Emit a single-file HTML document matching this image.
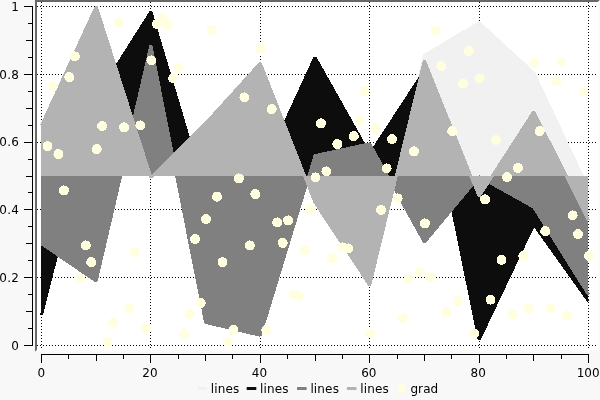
<!DOCTYPE html>
<html><head><meta charset="utf-8"><title>plot</title>
<style>html,body{margin:0;padding:0;background:#f8f8f8;width:600px;height:400px;overflow:hidden}</style>
</head><body>
<svg width="600" height="400" viewBox="0 0 600 400" style="position:absolute;left:0;top:0">
<rect x="0" y="0" width="600" height="400" fill="#f8f8f8"/>
<rect x="35" y="0" width="565" height="352" fill="#ffffff"/>
<polygon points="35,0 600,0 598,2 37,2 37,350 35,352" fill="#6b6764"/>
<polygon points="600,0 600,352 35,352 37,350 598,350 598,2" fill="#fbfbfb"/>
<g stroke="#000" stroke-width="1" stroke-dasharray="1 2" shape-rendering="crispEdges">
<line x1="41.5" y1="2" x2="41.5" y2="350"/>
<line x1="150.5" y1="2" x2="150.5" y2="350"/>
<line x1="260.5" y1="2" x2="260.5" y2="350"/>
<line x1="369.5" y1="2" x2="369.5" y2="350"/>
<line x1="479.5" y1="2" x2="479.5" y2="350"/>
<line x1="588.5" y1="2" x2="588.5" y2="350"/>
<line x1="37" y1="345.5" x2="598" y2="345.5"/>
<line x1="37" y1="277.5" x2="598" y2="277.5"/>
<line x1="37" y1="209.5" x2="598" y2="209.5"/>
<line x1="37" y1="142.5" x2="598" y2="142.5"/>
<line x1="37" y1="74.5" x2="598" y2="74.5"/>
<line x1="37" y1="6.5" x2="598" y2="6.5"/>
</g>
<g shape-rendering="crispEdges" stroke-linejoin="bevel" stroke-linecap="butt">
<polygon fill="#f1f1f1" stroke="none" points="41.00,176.00 41.00,159.05 41.50,159.05 96.20,142.10 150.90,108.20 205.60,159.05 260.30,142.10 315.00,142.10 369.70,277.70 424.40,55.32 479.10,22.77 533.80,72.94 588.50,189.56 588.00,189.56 588.00,176.00"/>
<polyline fill="none" stroke="#f1f1f1" stroke-width="3" points="41.50,159.05 96.20,142.10 150.90,108.20 205.60,159.05 260.30,142.10 315.00,142.10 369.70,277.70 424.40,55.32 479.10,22.77 533.80,72.94 588.50,189.56"/>
<polygon fill="#0d0d0d" stroke="none" points="41.00,176.00 41.00,314.99 41.50,314.99 96.20,98.03 150.90,11.92 205.60,194.98 260.30,176.00 315.00,57.35 369.70,154.64 424.40,70.91 479.10,339.74 533.80,224.48 588.50,301.09 588.00,301.09 588.00,176.00"/>
<polyline fill="none" stroke="#0d0d0d" stroke-width="3" points="41.50,314.99 96.20,98.03 150.90,11.92 205.60,194.98 260.30,176.00 315.00,57.35 369.70,154.64 424.40,70.91 479.10,339.74 533.80,224.48 588.50,301.09"/>
<polygon fill="#808080" stroke="none" points="41.00,176.00 41.00,243.80 41.50,243.80 96.20,281.09 150.90,45.49 205.60,322.45 260.30,335.33 315.00,155.66 369.70,143.80 424.40,242.11 479.10,176.68 533.80,207.19 588.50,294.65 588.00,294.65 588.00,176.00"/>
<polyline fill="none" stroke="#808080" stroke-width="3" points="41.50,243.80 96.20,281.09 150.90,45.49 205.60,322.45 260.30,335.33 315.00,155.66 369.70,143.80 424.40,242.11 479.10,176.68 533.80,207.19 588.50,294.65"/>
<polygon fill="#b3b3b3" stroke="none" points="41.00,176.00 41.00,125.49 41.50,125.49 96.20,6.50 150.90,177.36 205.60,123.45 260.30,63.11 315.00,202.44 369.70,285.16 424.40,60.74 479.10,196.34 533.80,111.59 588.50,220.41 588.00,220.41 588.00,176.00"/>
<polyline fill="none" stroke="#b3b3b3" stroke-width="3" points="41.50,125.49 96.20,6.50 150.90,177.36 205.60,123.45 260.30,63.11 315.00,202.44 369.70,285.16 424.40,60.74 479.10,196.34 533.80,111.59 588.50,220.41"/>
</g>
<g fill="#ffffdf" shape-rendering="crispEdges">
<circle cx="47.47" cy="146.15" r="5"/>
<circle cx="52.94" cy="86.15" r="5"/>
<circle cx="58.41" cy="154.15" r="5"/>
<circle cx="63.88" cy="190.40" r="5"/>
<circle cx="69.35" cy="77.15" r="5"/>
<circle cx="74.82" cy="56.40" r="5"/>
<circle cx="80.29" cy="278.40" r="5"/>
<circle cx="85.76" cy="245.40" r="5"/>
<circle cx="91.23" cy="262.15" r="5"/>
<circle cx="96.70" cy="149.15" r="5"/>
<circle cx="102.17" cy="126.15" r="5"/>
<circle cx="107.64" cy="342.00" r="5"/>
<circle cx="113.11" cy="322.80" r="5"/>
<circle cx="118.58" cy="22.40" r="5"/>
<circle cx="124.05" cy="127.40" r="5"/>
<circle cx="129.52" cy="308.00" r="5"/>
<circle cx="134.99" cy="252.15" r="5"/>
<circle cx="140.46" cy="125.40" r="5"/>
<circle cx="145.93" cy="327.90" r="5"/>
<circle cx="151.40" cy="60.40" r="5"/>
<circle cx="156.87" cy="24.15" r="5"/>
<circle cx="162.34" cy="18.40" r="5"/>
<circle cx="167.81" cy="24.90" r="5"/>
<circle cx="173.28" cy="78.40" r="5"/>
<circle cx="178.75" cy="67.90" r="5"/>
<circle cx="184.22" cy="334.15" r="5"/>
<circle cx="189.69" cy="314.15" r="5"/>
<circle cx="195.16" cy="239.15" r="5"/>
<circle cx="200.63" cy="302.90" r="5"/>
<circle cx="206.10" cy="219.15" r="5"/>
<circle cx="211.57" cy="29.90" r="5"/>
<circle cx="217.04" cy="196.65" r="5"/>
<circle cx="222.51" cy="262.15" r="5"/>
<circle cx="227.98" cy="342.15" r="5"/>
<circle cx="233.45" cy="329.90" r="5"/>
<circle cx="238.92" cy="178.40" r="5"/>
<circle cx="244.39" cy="97.40" r="5"/>
<circle cx="249.86" cy="245.40" r="5"/>
<circle cx="255.33" cy="194.15" r="5"/>
<circle cx="260.80" cy="49.15" r="5"/>
<circle cx="266.27" cy="329.90" r="5"/>
<circle cx="271.74" cy="109.15" r="5"/>
<circle cx="277.21" cy="222.40" r="5"/>
<circle cx="282.68" cy="242.90" r="5"/>
<circle cx="288.15" cy="220.40" r="5"/>
<circle cx="293.62" cy="294.65" r="5"/>
<circle cx="299.09" cy="296.15" r="5"/>
<circle cx="304.56" cy="250.40" r="5"/>
<circle cx="310.03" cy="209.15" r="5"/>
<circle cx="315.50" cy="177.40" r="5"/>
<circle cx="320.97" cy="123.40" r="5"/>
<circle cx="326.44" cy="171.40" r="5"/>
<circle cx="331.91" cy="257.90" r="5"/>
<circle cx="337.38" cy="144.15" r="5"/>
<circle cx="342.85" cy="247.40" r="5"/>
<circle cx="348.32" cy="248.40" r="5"/>
<circle cx="353.79" cy="136.15" r="5"/>
<circle cx="359.26" cy="120.90" r="5"/>
<circle cx="364.73" cy="91.15" r="5"/>
<circle cx="370.20" cy="333.40" r="5"/>
<circle cx="375.67" cy="127.90" r="5"/>
<circle cx="381.14" cy="209.90" r="5"/>
<circle cx="386.61" cy="168.40" r="5"/>
<circle cx="392.08" cy="139.15" r="5"/>
<circle cx="397.55" cy="198.40" r="5"/>
<circle cx="403.02" cy="317.90" r="5"/>
<circle cx="408.49" cy="279.15" r="5"/>
<circle cx="413.96" cy="151.40" r="5"/>
<circle cx="419.43" cy="272.15" r="5"/>
<circle cx="424.90" cy="223.40" r="5"/>
<circle cx="430.37" cy="277.40" r="5"/>
<circle cx="435.84" cy="30.40" r="5"/>
<circle cx="441.31" cy="66.15" r="5"/>
<circle cx="446.78" cy="312.15" r="5"/>
<circle cx="452.25" cy="131.15" r="5"/>
<circle cx="457.72" cy="300.90" r="5"/>
<circle cx="463.19" cy="83.40" r="5"/>
<circle cx="468.66" cy="51.15" r="5"/>
<circle cx="474.13" cy="333.40" r="5"/>
<circle cx="479.60" cy="78.40" r="5"/>
<circle cx="485.07" cy="199.40" r="5"/>
<circle cx="490.54" cy="299.65" r="5"/>
<circle cx="496.01" cy="139.90" r="5"/>
<circle cx="501.48" cy="259.90" r="5"/>
<circle cx="506.95" cy="177.15" r="5"/>
<circle cx="512.42" cy="314.15" r="5"/>
<circle cx="517.89" cy="167.90" r="5"/>
<circle cx="523.36" cy="255.90" r="5"/>
<circle cx="528.83" cy="308.65" r="5"/>
<circle cx="534.30" cy="62.90" r="5"/>
<circle cx="539.77" cy="131.15" r="5"/>
<circle cx="545.24" cy="231.15" r="5"/>
<circle cx="550.71" cy="307.90" r="5"/>
<circle cx="556.18" cy="81.20" r="5"/>
<circle cx="561.65" cy="61.60" r="5"/>
<circle cx="567.12" cy="315.40" r="5"/>
<circle cx="572.59" cy="215.40" r="5"/>
<circle cx="578.06" cy="234.15" r="5"/>
<circle cx="583.53" cy="91.60" r="5"/>
<circle cx="589.00" cy="255.90" r="5"/>
</g>
<g stroke="#000" stroke-width="1" shape-rendering="crispEdges" fill="none">
<line x1="32.5" y1="6" x2="32.5" y2="346"/>
<line x1="24.0" y1="345.5" x2="33" y2="345.5"/>
<line x1="28.0" y1="328.5" x2="33" y2="328.5"/>
<line x1="26.0" y1="311.5" x2="33" y2="311.5"/>
<line x1="28.0" y1="294.5" x2="33" y2="294.5"/>
<line x1="24.0" y1="277.5" x2="33" y2="277.5"/>
<line x1="28.0" y1="260.5" x2="33" y2="260.5"/>
<line x1="26.0" y1="243.5" x2="33" y2="243.5"/>
<line x1="28.0" y1="226.5" x2="33" y2="226.5"/>
<line x1="24.0" y1="209.5" x2="33" y2="209.5"/>
<line x1="28.0" y1="192.5" x2="33" y2="192.5"/>
<line x1="26.0" y1="176.5" x2="33" y2="176.5"/>
<line x1="28.0" y1="159.5" x2="33" y2="159.5"/>
<line x1="24.0" y1="142.5" x2="33" y2="142.5"/>
<line x1="28.0" y1="125.5" x2="33" y2="125.5"/>
<line x1="26.0" y1="108.5" x2="33" y2="108.5"/>
<line x1="28.0" y1="91.5" x2="33" y2="91.5"/>
<line x1="24.0" y1="74.5" x2="33" y2="74.5"/>
<line x1="28.0" y1="57.5" x2="33" y2="57.5"/>
<line x1="26.0" y1="40.5" x2="33" y2="40.5"/>
<line x1="28.0" y1="23.5" x2="33" y2="23.5"/>
<line x1="24.0" y1="6.5" x2="33" y2="6.5"/>
<line x1="41" y1="354.5" x2="589" y2="354.5"/>
<line x1="41.5" y1="354" x2="41.5" y2="363.0"/>
<line x1="68.5" y1="354" x2="68.5" y2="359.0"/>
<line x1="96.5" y1="354" x2="96.5" y2="361.0"/>
<line x1="123.5" y1="354" x2="123.5" y2="359.0"/>
<line x1="150.5" y1="354" x2="150.5" y2="363.0"/>
<line x1="178.5" y1="354" x2="178.5" y2="359.0"/>
<line x1="205.5" y1="354" x2="205.5" y2="361.0"/>
<line x1="232.5" y1="354" x2="232.5" y2="359.0"/>
<line x1="260.5" y1="354" x2="260.5" y2="363.0"/>
<line x1="287.5" y1="354" x2="287.5" y2="359.0"/>
<line x1="315.5" y1="354" x2="315.5" y2="361.0"/>
<line x1="342.5" y1="354" x2="342.5" y2="359.0"/>
<line x1="369.5" y1="354" x2="369.5" y2="363.0"/>
<line x1="397.5" y1="354" x2="397.5" y2="359.0"/>
<line x1="424.5" y1="354" x2="424.5" y2="361.0"/>
<line x1="451.5" y1="354" x2="451.5" y2="359.0"/>
<line x1="479.5" y1="354" x2="479.5" y2="363.0"/>
<line x1="506.5" y1="354" x2="506.5" y2="359.0"/>
<line x1="533.5" y1="354" x2="533.5" y2="361.0"/>
<line x1="561.5" y1="354" x2="561.5" y2="359.0"/>
<line x1="588.5" y1="354" x2="588.5" y2="363.0"/>
</g>
<g font-family="DejaVu Sans, Liberation Sans, sans-serif" font-size="12px" fill="#000" style="filter:grayscale(1)">
<text x="19.1" y="349.7" text-anchor="end" letter-spacing="0.25">0</text>
<text x="19.1" y="281.9" text-anchor="end" letter-spacing="0.25">0.2</text>
<text x="19.1" y="214.1" text-anchor="end" letter-spacing="0.25">0.4</text>
<text x="19.1" y="146.3" text-anchor="end" letter-spacing="0.25">0.6</text>
<text x="19.1" y="78.5" text-anchor="end" letter-spacing="0.25">0.8</text>
<text x="19.1" y="10.7" text-anchor="end" letter-spacing="0.25">1</text>
<text x="41.2" y="377" text-anchor="middle">0</text>
<text x="150.0" y="377" text-anchor="middle">20</text>
<text x="259.4" y="377" text-anchor="middle">40</text>
<text x="368.8" y="377" text-anchor="middle">60</text>
<text x="478.2" y="377" text-anchor="middle">80</text>
<text x="599.6" y="377" text-anchor="end">100</text>
<rect x="197.3" y="387" width="9.6" height="3" fill="#f1f1f1"/>
<text x="210.7" y="393" letter-spacing="0.15">lines</text>
<rect x="246.7" y="387" width="9.6" height="3" fill="#0d0d0d"/>
<text x="260.1" y="393" letter-spacing="0.15">lines</text>
<rect x="297.0" y="387" width="9.6" height="3" fill="#808080"/>
<text x="310.4" y="393" letter-spacing="0.15">lines</text>
<rect x="346.9" y="387" width="9.6" height="3" fill="#b3b3b3"/>
<text x="360.3" y="393" letter-spacing="0.15">lines</text>
<text x="410.4" y="393" letter-spacing="0.1">grad</text>
</g>
<circle cx="402" cy="388.7" r="4.2" fill="#ffffdf"/>
</svg>
</body></html>
